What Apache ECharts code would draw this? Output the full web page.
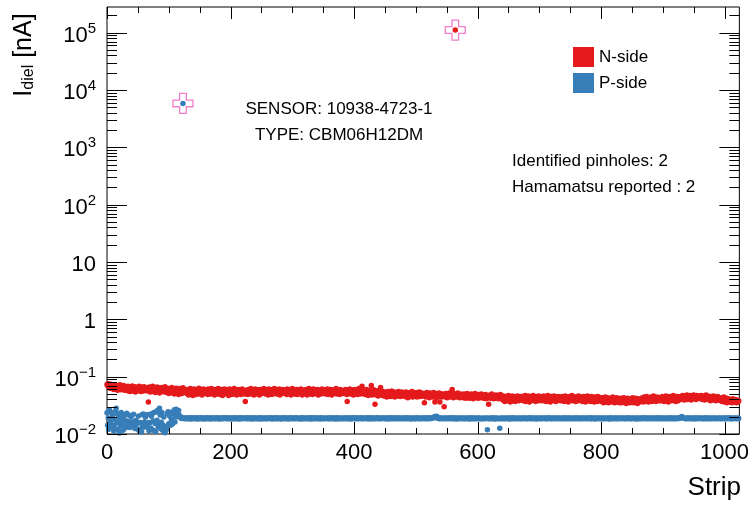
<!DOCTYPE html>
<html>
<head>
<meta charset="utf-8">
<script src="https://cdn.jsdelivr.net/npm/echarts@6.0.0/dist/echarts.min.js"></script>
<style>
html,body{margin:0;padding:0;background:#fff;}
#chart{width:752px;height:505px;}
</style>
</head>
<body>
<div id="chart"></div>
<script>
// ---------------- DATA ----------------
// Dielectric current per strip, in pA (1 pA = 0.001 nA); index = strip number
const nSide_pA = [
73,69,75,66,71,63,74,68,62,70,65,60,72,64,69,61,67,58,70,63,66,72,59,65,68,61,64,70,58,66,62,67,
65,57,68,60,63,55,66,61,58,69,56,63,60,67,54,62,65,58,64,57,68,59,62,55,66,60,63,56,67,58,61,64,
62,56,65,36,59,66,54,61,63,57,68,55,60,64,53,62,58,66,56,61,64,52,59,63,57,65,55,60,62,54,67,58,
60,53,63,56,51,59,62,54,58,65,52,57,61,50,59,55,63,53,58,60,49,56,62,54,59,51,57,64,53,58,55,60,
57,51,60,54,48,58,53,62,50,56,59,47,55,61,52,57,49,60,54,51,58,63,50,55,53,59,48,56,61,52,57,54,
52,59,55,49,61,53,57,50,58,62,51,56,54,60,48,57,53,59,50,55,62,52,58,49,56,60,53,47,57,54,61,51,
56,60,50,54,58,47,55,61,52,57,49,59,53,56,62,50,55,58,48,57,53,60,51,56,59,49,54,61,52,57,55,50,
37,58,52,56,49,60,54,51,57,62,50,55,53,59,48,56,61,52,57,54,50,59,55,48,60,53,56,51,58,54,62,52,
55,50,59,53,57,48,61,54,52,58,56,49,60,53,55,62,51,57,54,50,59,52,56,61,48,55,58,53,51,60,54,57,
52,58,55,49,61,54,57,51,59,53,48,56,62,52,55,58,50,57,54,60,49,55,53,59,56,51,61,54,48,57,53,58,
56,51,60,54,48,57,53,62,50,55,58,52,56,49,61,54,57,51,59,53,55,60,48,56,52,58,54,50,61,55,53,57,
54,59,50,56,53,61,49,57,55,52,60,54,48,58,56,51,59,53,57,62,50,55,52,58,54,49,60,56,53,57,51,55,
57,52,60,54,49,37,58,53,56,61,50,55,59,52,57,48,54,60,51,56,53,59,49,55,62,52,57,50,54,68,56,53,
52,57,49,55,60,51,54,47,58,53,50,56,70,48,55,52,59,50,33,54,48,57,51,46,55,52,58,65,49,53,47,55,
50,46,54,48,52,44,51,55,47,49,53,45,50,56,46,52,48,54,44,51,49,53,46,50,55,47,52,45,49,54,48,51,
47,52,45,50,54,46,49,43,51,48,53,45,50,47,55,44,49,52,46,50,48,53,44,51,47,49,54,45,50,46,52,48,
49,46,35,51,44,48,53,45,50,47,43,52,48,45,51,49,44,53,46,36,50,47,43,51,48,45,52,36,47,50,44,49,
46,50,30,47,44,51,48,43,49,46,52,44,47,50,45,60,48,43,51,46,null,49,44,47,52,45,48,43,50,46,44,49,
47,43,50,45,48,42,46,51,44,47,49,42,46,44,50,45,48,41,47,44,51,45,43,48,46,42,49,45,47,43,50,44,
45,48,42,46,44,49,41,47,43,46,33,44,48,42,45,50,43,46,41,47,44,42,48,45,43,47,41,46,44,49,42,45,
43,39,46,41,37,44,40,45,38,42,47,39,43,36,44,41,46,38,42,40,45,37,43,41,39,46,42,38,44,40,45,41,
40,45,38,43,41,47,37,42,44,39,46,40,36,43,45,38,42,40,47,39,44,41,37,45,42,39,43,46,38,41,44,40,
44,38,42,46,39,41,45,37,43,40,47,38,42,44,36,41,45,39,43,40,46,38,42,37,44,41,39,45,40,43,38,42,
41,45,39,43,37,42,46,40,38,44,41,36,43,45,39,42,40,47,38,41,44,39,43,37,42,45,40,38,46,41,39,43,
40,44,37,42,45,39,41,36,43,40,46,38,42,39,44,37,41,45,40,38,43,36,42,44,39,41,37,45,40,42,38,43,
41,37,43,39,35,42,38,44,36,40,38,43,35,41,39,37,42,36,40,44,37,39,35,41,38,43,36,40,37,42,35,39,
38,42,35,40,37,43,36,39,41,34,38,42,36,40,37,35,41,39,36,43,38,35,40,37,42,36,39,34,41,38,36,40,
37,41,39,43,36,40,44,38,42,37,45,39,41,36,43,40,38,44,37,42,39,46,38,41,43,37,40,44,39,42,38,41,
43,38,42,45,39,41,37,44,40,46,38,42,40,36,43,45,39,41,44,38,42,47,39,40,43,37,41,45,40,38,44,41,
42,45,40,44,47,41,43,39,46,42,44,48,40,45,43,41,47,42,39,46,44,42,48,41,45,43,40,47,44,42,46,43,
45,41,47,43,40,46,42,44,39,45,48,41,43,46,40,44,42,38,45,41,43,39,46,42,40,44,38,43,41,45,39,42,
40,43,38,41,37,42,39,44,36,40,38,42,35,39,41,37,40,36,39,38,35,41,37,39,36,40,38,35,39,37,36,38
];
const pSide_pA = [
23.5,14.2,19.0,12.1,26.3,16.0,24.2,18.7,13.5,21.0,14.2,11.3,17.8,12.6,25.0,28.1,15.5,22.4,12.0,19.6,10.4,16.8,13.9,23.7,14.8,18.2,11.6,20.5,15.9,21.4,12.8,17.1,
22.9,15.7,14.1,16.4,21.2,13.0,15.9,19.8,16.0,15.2,14.6,22.1,16.3,12.5,15.1,17.4,14.9,12.2,15.4,20.7,11.6,10.9,15.8,12.3,11.0,21.9,14.0,22.4,16.1,13.2,19.5,15.0,
21.6,14.5,13.1,15.8,11.4,22.0,15.9,12.7,20.3,11.9,23.1,16.8,11.5,24.0,15.2,11.0,24.3,17.4,26.0,13.3,15.7,28.2,21.5,12.4,16.0,23.6,11.6,14.2,19.7,11.0,10.5,12.1,
11.8,13.5,22.7,24.4,15.1,20.9,23.8,14.2,18.3,15.8,14.9,22.6,25.0,26.4,16.2,19.7,27.1,20.1,24.5,23.0,25.6,21.3,19.4,20.2,19.1,18.6,19.3,null,18.9,18.4,19.0,18.7,
18.6,19.1,18.4,18.9,19.3,18.5,18.8,19.0,18.3,18.7,19.2,18.6,18.9,18.4,19.1,18.8,18.5,19.3,18.7,18.2,18.9,19.0,18.6,18.4,19.2,18.8,18.5,19.0,18.7,18.3,19.1,18.8,
18.5,18.9,19.2,18.6,18.4,19.0,18.7,18.9,18.3,19.1,18.6,18.8,19.3,18.5,18.7,19.0,18.4,18.9,18.6,19.2,18.8,18.3,19.0,18.7,18.5,19.1,18.6,18.9,18.4,19.3,18.7,18.8,
19.0,18.6,18.4,18.9,19.2,18.5,18.8,18.7,19.1,18.3,18.9,18.6,19.0,18.5,18.8,19.3,18.4,18.7,19.1,18.6,18.9,18.2,19.0,18.8,18.5,19.2,18.7,18.4,18.9,19.1,18.6,18.8,
18.7,19.0,18.5,18.8,19.2,18.4,18.9,18.6,19.1,18.7,18.3,19.0,18.8,18.5,19.3,18.6,18.9,18.4,19.1,18.7,18.5,19.0,18.8,18.3,19.2,18.6,18.9,18.5,18.7,19.1,18.4,18.8,
18.9,18.5,19.1,18.7,18.4,19.0,18.6,18.8,19.3,18.5,18.7,18.9,18.3,19.1,18.6,18.8,19.0,18.4,18.7,19.2,18.5,18.9,18.6,18.8,19.1,18.3,18.7,19.0,18.5,18.9,18.6,19.2,
18.4,18.8,19.0,18.6,18.9,18.3,19.1,18.7,18.5,19.2,18.8,18.6,18.4,19.0,18.7,18.9,18.5,19.3,18.6,18.8,19.1,18.4,18.7,18.9,18.5,19.0,18.6,18.3,19.2,18.8,18.7,18.5,
19.0,18.6,18.8,18.4,19.1,18.7,18.9,18.5,19.2,18.6,18.3,19.0,18.8,18.5,18.9,18.7,19.3,18.4,18.6,19.1,18.8,18.5,18.9,18.7,19.0,18.3,18.6,19.2,18.8,18.4,18.9,18.7,
18.5,19.1,18.8,18.6,18.9,18.4,19.0,18.7,18.5,19.3,18.6,18.8,18.4,19.1,18.7,18.9,18.5,19.0,18.6,18.3,19.2,18.8,18.7,18.5,19.0,18.6,18.9,18.4,19.1,18.7,18.5,18.8,
19.0,18.6,18.4,18.9,19.2,18.7,18.5,18.8,19.1,18.6,18.3,19.0,18.8,18.5,18.9,19.3,18.6,18.7,19.0,18.4,18.8,19.1,18.5,18.7,18.9,18.6,19.2,18.4,18.8,19.0,18.7,18.5,
18.9,18.6,19.1,18.8,18.4,19.0,18.7,18.5,19.2,18.6,18.9,18.3,19.0,18.8,18.6,19.1,18.5,18.7,18.9,18.4,19.3,18.6,18.8,19.0,18.5,18.7,19.1,18.4,18.9,18.6,18.8,19.0,
18.6,18.9,18.4,19.1,18.7,18.5,19.0,18.8,18.3,18.9,19.2,18.6,18.7,18.5,19.0,18.8,18.4,19.1,18.6,18.9,18.7,18.5,19.3,18.6,18.8,18.4,19.0,18.7,18.9,18.5,19.1,18.6,
18.8,18.5,19.0,18.7,18.9,18.4,19.2,18.6,18.8,19.0,18.5,18.7,18.3,19.1,18.8,18.6,18.9,18.4,19.0,18.7,18.5,19.2,18.8,18.6,18.9,18.4,19.0,18.7,18.5,19.1,18.6,18.8,
18.7,19.0,18.5,18.8,19.1,18.6,18.4,18.9,19.2,18.7,18.5,19.0,18.8,18.6,19.1,18.9,19.3,19.5,19.8,20.1,19.6,19.2,20.3,19.4,18.9,18.7,19.0,18.5,18.8,18.6,19.1,18.7,
18.9,18.5,18.7,19.0,18.6,18.8,18.4,19.1,18.7,18.9,18.5,19.0,18.6,18.8,19.2,18.4,18.7,18.9,18.5,19.0,18.6,18.8,18.3,19.1,18.7,18.5,18.9,18.6,19.0,18.8,18.4,18.7,
18.8,19.0,18.5,18.7,18.9,18.4,19.1,18.6,18.8,18.5,19.0,18.7,18.3,18.9,19.2,18.6,18.8,18.5,19.0,18.7,18.4,18.9,18.6,19.1,18.7,18.5,18.8,19.0,18.6,18.4,18.9,18.7,
18.5,18.9,18.6,19.0,18.7,18.4,18.8,19.1,11.9,18.6,18.9,18.5,18.7,19.0,18.4,18.8,18.6,19.2,18.7,18.5,18.9,18.3,18.8,19.0,18.6,18.7,18.4,18.9,12.6,18.5,19.0,18.7,
18.8,18.5,19.0,18.6,18.9,18.4,18.7,19.1,18.6,18.8,18.5,19.0,18.7,18.3,18.9,18.6,19.2,18.8,18.5,18.7,19.0,18.4,18.8,18.6,18.9,18.5,19.1,18.7,18.6,18.8,18.4,19.0,
18.7,18.5,18.9,19.1,18.6,18.8,18.4,19.0,18.7,18.5,18.9,18.6,19.2,18.8,18.4,18.7,19.0,18.6,18.9,18.5,18.8,19.1,18.6,18.3,18.9,18.7,19.0,18.5,18.8,18.6,19.1,18.7,
18.5,18.9,18.7,19.0,18.6,18.8,18.4,19.1,18.7,18.5,18.9,19.2,18.6,18.8,18.5,19.0,18.7,18.4,18.9,18.6,19.1,18.8,18.5,18.7,19.0,18.6,18.9,18.4,18.8,19.1,18.7,18.5,
18.9,18.6,19.0,18.7,18.5,18.8,19.2,18.6,18.4,18.9,18.7,19.0,18.5,18.8,18.6,19.1,18.7,18.4,18.9,18.6,19.0,18.8,18.5,18.7,19.2,18.6,18.9,18.4,18.8,18.7,19.0,18.5,
18.7,19.0,18.6,18.8,18.4,18.9,19.1,18.6,18.7,18.5,19.0,18.8,18.6,18.9,18.4,19.2,18.7,18.5,18.8,19.0,18.6,18.9,18.3,18.7,19.1,18.8,18.5,18.9,18.6,19.0,18.7,18.4,
18.8,18.6,19.0,18.5,18.9,18.7,18.4,19.1,18.8,18.6,18.9,18.5,19.0,18.7,18.3,18.8,19.2,18.6,18.9,18.5,18.7,19.0,18.6,18.8,18.4,19.1,18.7,18.5,18.9,18.6,19.0,18.8,
18.5,18.9,18.7,19.1,18.6,18.8,18.4,19.0,18.7,18.5,18.9,18.6,19.2,18.8,18.5,18.7,19.0,18.4,18.9,18.6,18.8,19.1,18.7,18.5,18.9,18.3,18.8,19.0,18.6,18.7,18.5,19.0,
18.7,18.9,18.5,19.0,18.6,18.8,19.2,18.6,18.4,18.9,18.7,19.1,18.5,18.8,18.6,19.0,18.7,18.4,18.9,18.6,19.1,18.8,18.5,18.7,19.0,18.6,18.9,18.4,18.8,19.2,18.7,18.5,
18.9,18.6,19.0,18.7,18.5,18.8,19.1,18.6,18.9,18.4,18.7,19.0,18.8,18.5,18.9,18.6,19.2,18.7,18.5,18.8,19.0,18.6,18.4,18.9,18.7,19.1,18.5,18.8,18.6,19.0,18.7,18.9,
19.1,19.4,19.7,20.2,19.6,19.2,18.9,18.6,18.8,18.5,19.0,18.7,18.9,18.4,18.8,19.1,18.6,18.7,18.5,19.0,18.8,18.6,18.9,18.3,18.7,19.2,18.6,18.8,18.5,19.0,18.7,18.9,
18.6,18.8,19.1,18.5,18.7,18.9,18.4,19.0,18.6,18.8,18.5,19.2,18.7,18.9,18.6,18.4,19.0,18.8,18.5,18.7,19.1,18.6,18.9,18.5,18.8,19.0,18.6,18.7,18.4,18.9,18.8,18.6,
19.0,18.7,18.5,18.9,18.6,19.1,18.8,18.4,18.7,19.0,18.6,18.9,18.5,18.8,19.2,18.6,18.7,18.9,18.5,19.0,18.7,18.4,18.8,18.6,19.1,18.7,18.9,18.5,18.8,18.6,19.0,18.7
];
// Identified pinholes (strip, current in nA, side)
const pinholeStrips = [123, 564];
const pinholeValues = [5830, 111000];
const pinholeSides = ['P', 'N'];

const seriesNames = ['N-side', 'P-side'];
const sensorText = 'SENSOR: 10938-4723-1';
const typeText = 'TYPE: CBM06H12DM';
const pinholeText = 'Identified pinholes: 2';
const hamamatsuText = 'Hamamatsu reported : 2';

// ---------------- CHART ----------------
const FONT = '"Liberation Sans", Arial, Helvetica, sans-serif';
const RED = '#e41a1c', BLUE = '#377eb8', PINK = '#f27ec9';
const X_MIN = 0, X_MAX = 1024, Y_MIN = 0.01, Y_MAX = 2.8e5;

function toPoints(arr) {
  const out = [];
  arr.forEach((v, i) => { if (v != null) out.push([i, v / 1000]); });
  return out;
}
const nData = toPoints(nSide_pA);
const pData = toPoints(pSide_pA);
const pinholeData = [];
pinholeStrips.forEach((s, k) => {
  const pt = [s, pinholeValues[k]];
  pinholeData.push(pt);
  (pinholeSides[k] === 'N' ? nData : pData).push(pt);
});

// ROOT-style tick marks (both sides of the frame)
const tickItems = [];
for (let v = 0; v <= X_MAX; v += 50) tickItems.push([v, Y_MIN, 0, v % 200 === 0 ? 1 : 0]);
for (let e = -2; e <= 5; e++) {
  for (let m = 1; m <= 9; m++) {
    const v = m * Math.pow(10, e);
    if (v <= Y_MAX) tickItems.push([X_MIN, v, 1, m === 1 ? 1 : 0]);
  }
}

const chart = echarts.init(document.getElementById('chart'), null, { renderer: 'canvas' });

const crossPath = 'path://M-1,-3L1,-3L1,-1L3,-1L3,1L1,1L1,3L-1,3L-1,1L-3,1L-3,-1L-1,-1Z';

chart.setOption({
  animation: false,
  backgroundColor: '#fff',
  textStyle: { fontFamily: FONT },
  grid: { left: 107, right: 12, top: 7, bottom: 71, show: true, borderColor: '#000', borderWidth: 1, backgroundColor: 'transparent' },
  legend: {
    data: seriesNames,
    orient: 'vertical',
    left: 573, top: 47, padding: 0,
    itemWidth: 21, itemHeight: 20, itemGap: 6,
    icon: 'rect',
    itemStyle: { opacity: 1 },
    textStyle: { fontSize: 17, color: '#000', fontFamily: FONT },
    selectedMode: false
  },
  xAxis: {
    type: 'value', min: X_MIN, max: X_MAX, interval: 200,
    axisLine: { show: false }, axisTick: { show: false }, splitLine: { show: false },
    axisLabel: { fontSize: 22, color: '#000', fontFamily: FONT, margin: 8, showMaxLabel: false,
      formatter: function (v) { return String(v); } }
  },
  yAxis: {
    type: 'log', logBase: 10, min: Y_MIN, max: Y_MAX,
    axisLine: { show: false }, axisTick: { show: false }, splitLine: { show: false },
    axisLabel: {
      margin: 11, showMaxLabel: false,
      formatter: function (v) {
        const e = Math.round(Math.log10(v));
        if (e === 0) return '{n|1}';
        if (e === 1) return '{n|10}';
        return '{n|10}{s|' + (e < 0 ? '\u2212' : '') + Math.abs(e) + '}';
      },
      rich: {
        n: { fontSize: 22, color: '#000', fontFamily: FONT, padding: [6, 0, 0, 0] },
        s: { fontSize: 15, color: '#000', fontFamily: FONT, padding: [0, 0, 8, 0] }
      }
    }
  },
  series: [
    {
      name: 'N-side', type: 'scatter', data: nData, symbol: 'circle', symbolSize: 5.5,
      itemStyle: { color: RED, opacity: 1 }, z: 3
    },
    {
      name: 'P-side', type: 'scatter', data: pData, symbol: 'circle', symbolSize: 5.5,
      itemStyle: { color: BLUE, opacity: 1 }, z: 3
    },
    {
      name: 'pinholes', type: 'scatter', data: pinholeData, symbol: crossPath, symbolSize: 20,
      itemStyle: { color: 'rgba(0,0,0,0)', borderColor: PINK, borderWidth: 1.3, opacity: 1 }, z: 2
    },
    {
      name: 'ticks', type: 'custom', data: tickItems, z: 4, silent: true,
      renderItem: function (params, api) {
        const vx = api.value(0), vy = api.value(1), isY = api.value(2), major = api.value(3);
        const bl = api.coord([X_MIN, Y_MIN]);
        const tr = api.coord([X_MAX, Y_MAX]);
        const st = { stroke: '#000', lineWidth: 1 };
        if (!isY) {
          const px = Math.round(api.coord([vx, Y_MIN])[0]) + 0.5;
          const len = major ? 12 : 6;
          return { type: 'group', children: [
            { type: 'line', shape: { x1: px, y1: bl[1], x2: px, y2: bl[1] - len }, style: st },
            { type: 'line', shape: { x1: px, y1: tr[1], x2: px, y2: tr[1] + len }, style: st }
          ]};
        } else {
          const py = Math.round(api.coord([X_MIN, vy])[1]) + 0.5;
          const len = major ? 20 : 10;
          return { type: 'group', children: [
            { type: 'line', shape: { x1: bl[0], y1: py, x2: bl[0] + len, y2: py }, style: st },
            { type: 'line', shape: { x1: tr[0], y1: py, x2: tr[0] - len, y2: py }, style: st }
          ]};
        }
      }
    }
  ],
  graphic: [
    { type: 'text', x: 339, y: 109, style: { text: sensorText, font: '17px ' + FONT, fill: '#000', align: 'center', verticalAlign: 'middle' } },
    { type: 'text', x: 339, y: 135, style: { text: typeText, font: '17px ' + FONT, fill: '#000', align: 'center', verticalAlign: 'middle' } },
    { type: 'text', x: 512, y: 161, style: { text: pinholeText, font: '17px ' + FONT, fill: '#000', align: 'left', verticalAlign: 'middle' } },
    { type: 'text', x: 512, y: 187, style: { text: hamamatsuText, font: '17px ' + FONT, fill: '#000', align: 'left', verticalAlign: 'middle' } },
    { type: 'text', x: 741, y: 488, style: { text: 'Strip', font: '26px ' + FONT, fill: '#000', align: 'right', verticalAlign: 'middle' } },
    {
      type: 'text', x: 24, y: 55, rotation: Math.PI / 2,
      style: {
        text: '{m|I}{s|diel}{m| [nA]}', align: 'center', verticalAlign: 'middle',
        rich: {
          m: { fontSize: 25, fontFamily: FONT, fill: '#000', color: '#000' },
          s: { fontSize: 16, fontFamily: FONT, fill: '#000', color: '#000', padding: [10, 0, 0, 0] }
        }
      }
    }
  ]
});
</script>
</body>
</html>
